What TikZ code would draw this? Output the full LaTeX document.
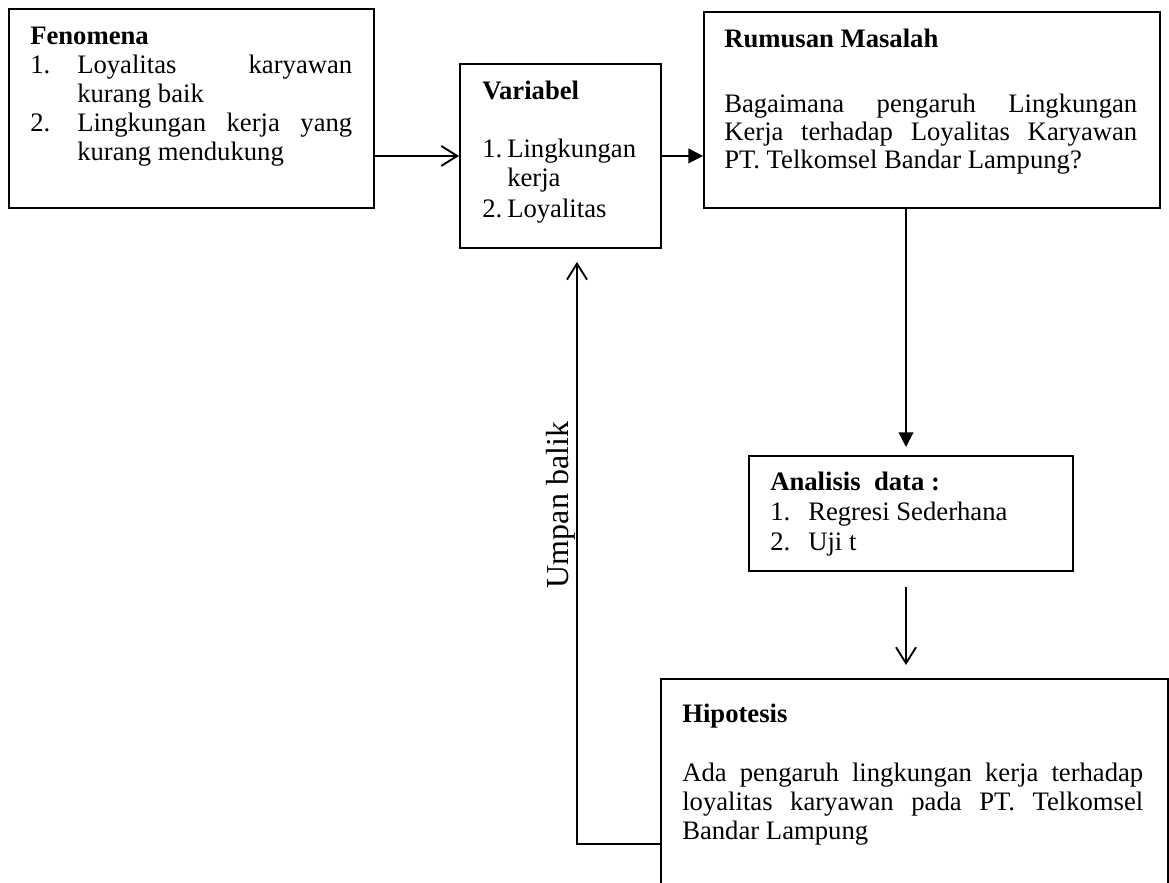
\documentclass[tikz,border=0pt]{standalone}
\usepackage{fontspec}
\setmainfont{Liberation Serif}
\usetikzlibrary{arrows.meta}
\tikzset{
  box/.style={draw, line width=1.4pt, inner sep=0pt, anchor=north west},
  txt/.style={anchor=base west, inner sep=0pt, font=\fontsize{20pt}{24pt}\selectfont},
  ttl/.style={txt, font=\fontsize{20pt}{24pt}\selectfont\bfseries},
  conn/.style={line width=1.4pt},
  openarr/.style={conn, -{Straight Barb[length=12pt, width=15pt, line width=1.4pt]}},
  fillarr/.style={conn, -{Triangle[length=11pt, width=11pt]}}
}
\begin{document}
\begin{tikzpicture}[x=0.75pt, y=-0.75pt]
\useasboundingbox (0,0) rectangle (1169,882);
\clip (0,0) rectangle (1169,882);
\fill[white] (0,0) rectangle (1169,882);

% boxes
\node[box, minimum width=365*0.75pt, minimum height=199*0.75pt] (fen) at (8,8) {};
\node[box, minimum width=201*0.75pt, minimum height=184*0.75pt] (var) at (459,63) {};
\node[box, minimum width=456*0.75pt, minimum height=196*0.75pt] (rum) at (703,11) {};
\node[box, minimum width=324*0.75pt, minimum height=115*0.75pt] (ana) at (748,455) {};
\node[box, minimum width=507*0.75pt, minimum height=300*0.75pt] (hip) at (660,678) {};

% Fenomena text
\node[ttl] (fen0) at (30,44) {Fenomena};
\node[txt] (fen1n) at (30,73) {1.};
\node[txt] (fen1) at (77,73) {\makebox[206.25pt]{Loyalitas\hfill karyawan}};
\node[txt] (fen1b) at (77,102) {kurang baik};
\node[txt] (fen2n) at (30,131) {2.};
\node[txt] (fen2) at (77,131) {\makebox[206.25pt]{Lingkungan\hfill kerja\hfill yang}};
\node[txt] (fen2b) at (77,160) {kurang mendukung};

% Variabel text
\node[ttl] (var0) at (482,99) {Variabel};
\node[txt] (var1n) at (482,157) {1.};
\node[txt] (var1) at (507,157) {Lingkungan};
\node[txt] (var1b) at (507,186) {kerja};
\node[txt] (var2n) at (482,217) {2.};
\node[txt] (var2) at (507,217) {Loyalitas};

% Rumusan text
\node[ttl] (rum0) at (724,47) {Rumusan Masalah};
\node[txt] (rum1) at (724,112) {\makebox[309.75pt]{Bagaimana\hfill pengaruh\hfill Lingkungan}};
\node[txt] (rum2) at (724,140) {\makebox[309.75pt]{Kerja\hfill terhadap\hfill Loyalitas\hfill Karyawan}};
\node[txt] (rum3) at (724,168) {PT. Telkomsel Bandar Lampung?};

% Analisis text
\node[ttl] (ana0) at (770,490) {Analisis\ \ data :};
\node[txt] (ana1n) at (770,520) {1.};
\node[txt] (ana1) at (808,520) {Regresi Sederhana};
\node[txt] (ana2n) at (770,550) {2.};
\node[txt] (ana2) at (808,550) {Uji t};

% Hipotesis text
\node[ttl] (hip0) at (682,722) {Hipotesis};
\node[txt] (hip1) at (682,781) {\makebox[345.75pt]{Ada\hfill pengaruh\hfill lingkungan\hfill kerja\hfill terhadap}};
\node[txt] (hip2) at (682,810) {\makebox[345.75pt]{loyalitas\hfill karyawan\hfill pada\hfill PT.\hfill Telkomsel}};
\node[txt] (hip3) at (682,839) {Bandar Lampung};

% connectors
\coordinate (colx) at (906,0);
\coordinate (fb) at (577,844);
\draw[openarr] (fen.east |- var.west) -- (var.west);
\draw[fillarr] (var.east) -- (rum.west |- var.east);
\draw[fillarr, shorten >=6pt] (rum.south -| colx) -- (ana.north -| colx);
\draw[openarr, shorten <=11pt, shorten >=9.75pt] (ana.south -| colx) -- (hip.north -| colx);
\draw[openarr, shorten >=9.75pt] (hip.west |- fb) -- (fb) -- (fb |- var.south);

\node[rotate=90, anchor=base, inner sep=0pt, font=\fontsize{24pt}{28pt}\selectfont] (ub) at (568,505) {Umpan balik};
\end{tikzpicture}
\end{document}
